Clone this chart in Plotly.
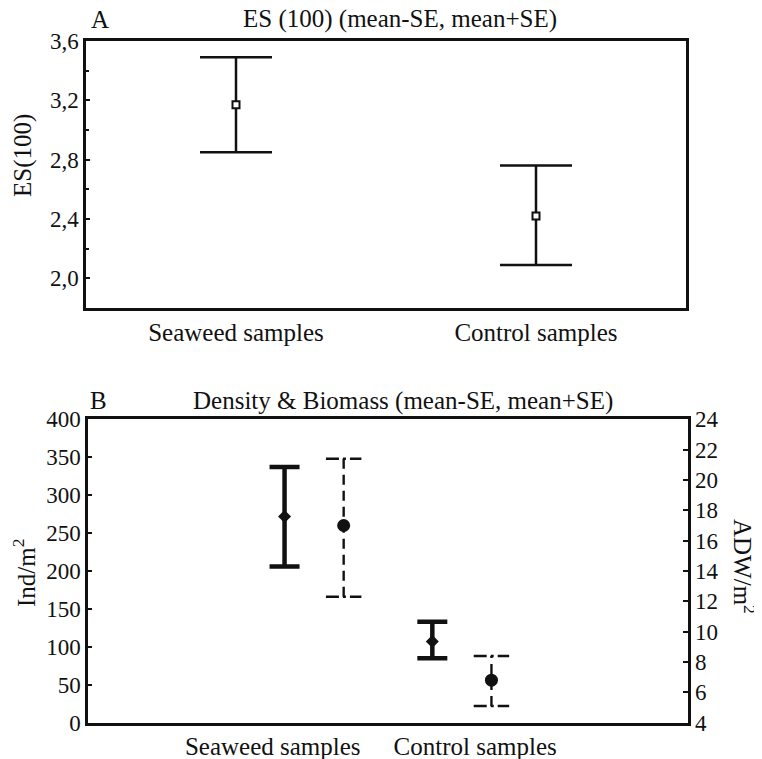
import plotly.graph_objects as go

# ---------- data ----------
groups = ["Seaweed samples", "Control samples"]

# Panel A: ES(100)
es_mean = [3.17, 2.42]
es_upper = [3.49, 2.76]
es_lower = [2.85, 2.09]

# Panel B: density (Ind/m2, left axis)
dens_mean = [272, 107]
dens_upper = [337, 133]
dens_lower = [206, 85]

# Panel B: biomass (ADW/m2, right axis)
bio_mean = [17.0, 6.8]
bio_upper = [21.4, 8.4]
bio_lower = [12.3, 5.1]

a_yticks = [2.0, 2.4, 2.8, 3.2, 3.6]
b_left_ticks = list(range(0, 401, 50))
b_right_ticks = list(range(4, 25, 2))

FONT = "Liberation Serif, Times New Roman, serif"
BLACK = "#111111"

# page body has an 8px margin: the figure is sized/positioned to compensate
OFF = 8
W, H = 762 - OFF, 759 - OFF


def fx(px):
    return (px - OFF) / W


def fy(py):
    return 1 - (py - OFF) / H


fig = go.Figure()

# ---------- Panel A ----------
fig.add_trace(go.Scatter(
    x=groups, y=es_mean, mode="markers",
    marker=dict(symbol="square", size=7, color="white",
                line=dict(color=BLACK, width=2)),
    error_y=dict(type="data", symmetric=False,
                 array=[u - m for u, m in zip(es_upper, es_mean)],
                 arrayminus=[m - l for m, l in zip(es_mean, es_lower)],
                 color=BLACK, thickness=2.5, width=36),
    xaxis="x", yaxis="y", showlegend=False))

# ---------- Panel B ----------
grp_pos = [0, 1]
off = 0.2          # horizontal offset of the two series within a group
cap = 0.12         # half width of dashed caps (data units)

dens_x = [g - off for g in grp_pos]
bio_x = [g + off for g in grp_pos]

fig.add_trace(go.Scatter(
    x=dens_x, y=dens_mean, mode="markers",
    marker=dict(symbol="diamond", size=10, color=BLACK),
    error_y=dict(type="data", symmetric=False,
                 array=[u - m for u, m in zip(dens_upper, dens_mean)],
                 arrayminus=[m - l for m, l in zip(dens_mean, dens_lower)],
                 color=BLACK, thickness=4.5, width=15),
    xaxis="x2", yaxis="y2", showlegend=False))

# dashed biomass bars built from data
for x, m, u, l in zip(bio_x, bio_mean, bio_upper, bio_lower):
    fig.add_trace(go.Scatter(
        x=[x, x], y=[l, u], mode="lines",
        line=dict(color=BLACK, width=2.4, dash="10px,6px"),
        xaxis="x2", yaxis="y3", showlegend=False, hoverinfo="skip"))
    for yy in (u, l):
        fig.add_trace(go.Scatter(
            x=[x - cap, x + cap], y=[yy, yy], mode="lines",
            line=dict(color=BLACK, width=2.4, dash="13px,4px,3px,4px"),
            xaxis="x2", yaxis="y3", showlegend=False, hoverinfo="skip"))
fig.add_trace(go.Scatter(
    x=bio_x, y=bio_mean, mode="markers",
    marker=dict(symbol="circle", size=13, color=BLACK),
    xaxis="x2", yaxis="y3", showlegend=False))

line_common = dict(showline=True, linecolor=BLACK, linewidth=2.5,
                   mirror=True, showgrid=False, zeroline=False,
                   automargin=False)
tick_font = dict(family=FONT, size=23, color=BLACK)
cat_font = dict(family=FONT, size=25, color=BLACK)

fig.update_layout(
    width=W, height=H, autosize=False,
    margin=dict(l=0, r=0, t=0, b=0, pad=0, autoexpand=False),
    paper_bgcolor="white", plot_bgcolor="white",
    separators=",.",
    font=dict(family=FONT, color=BLACK),
    xaxis=dict(domain=[fx(86), fx(686)], anchor="y",
               range=[-0.5, 1.5], ticks="", tickfont=cat_font,
               **line_common),
    yaxis=dict(domain=[fy(308), fy(41)], anchor="x",
               range=[1.8, 3.6], tickvals=a_yticks, tickformat=".1f",
               ticks="inside", ticklen=4, tickwidth=2, tickcolor=BLACK,
               minor=dict(dtick=0.2, tick0=0, ticks="inside", ticklen=3,
                          tickwidth=2, tickcolor=BLACK),
               tickfont=tick_font, **line_common),
    xaxis2=dict(domain=[fx(88), fx(688)], anchor="y2",
                range=[-1.53, 2.53], tickvals=[-0.28, 1.09],
                ticktext=groups, ticks="", tickfont=cat_font,
                **line_common),
    yaxis2=dict(domain=[fy(722.7), fy(419.3)], anchor="x2",
                range=[0, 400], tickvals=b_left_ticks,
                ticks="inside", ticklen=4, tickwidth=2, tickcolor=BLACK,
                tickfont=tick_font, **line_common),
    yaxis3=dict(overlaying="y2", anchor="x2", side="right",
                range=[4, 24], tickvals=b_right_ticks,
                ticks="inside", ticklen=5, tickwidth=2, tickcolor=BLACK,
                ticklabelstandoff=6, automargin=False,
                showline=False, showgrid=False, zeroline=False,
                tickfont=tick_font),
)

ann_font = dict(family=FONT, size=25, color=BLACK)
annotations = [
    dict(text="A", x=100, y=19, font=ann_font),
    dict(text="ES (100) (mean-SE, mean+SE)", x=400, y=19, font=ann_font),
    dict(text="ES(100)", x=23, y=156, textangle=-90, font=ann_font),
    dict(text="B", x=98, y=400, font=ann_font),
    dict(text="Density &amp; Biomass (mean-SE, mean+SE)", x=403, y=401, font=ann_font),
    dict(text="Ind/m<sup>2</sup>", x=24, y=573, textangle=-90, font=ann_font),
    dict(text="ADW/m<sup>2</sup>", x=744, y=566, textangle=90, font=ann_font),
]
for a in annotations:
    fig.add_annotation(text=a["text"], x=fx(a["x"]), y=fy(a["y"]),
                       xref="paper", yref="paper", showarrow=False,
                       xanchor="center", yanchor="middle",
                       textangle=a.get("textangle", 0), font=a["font"])

fig.write_html("out.html")
